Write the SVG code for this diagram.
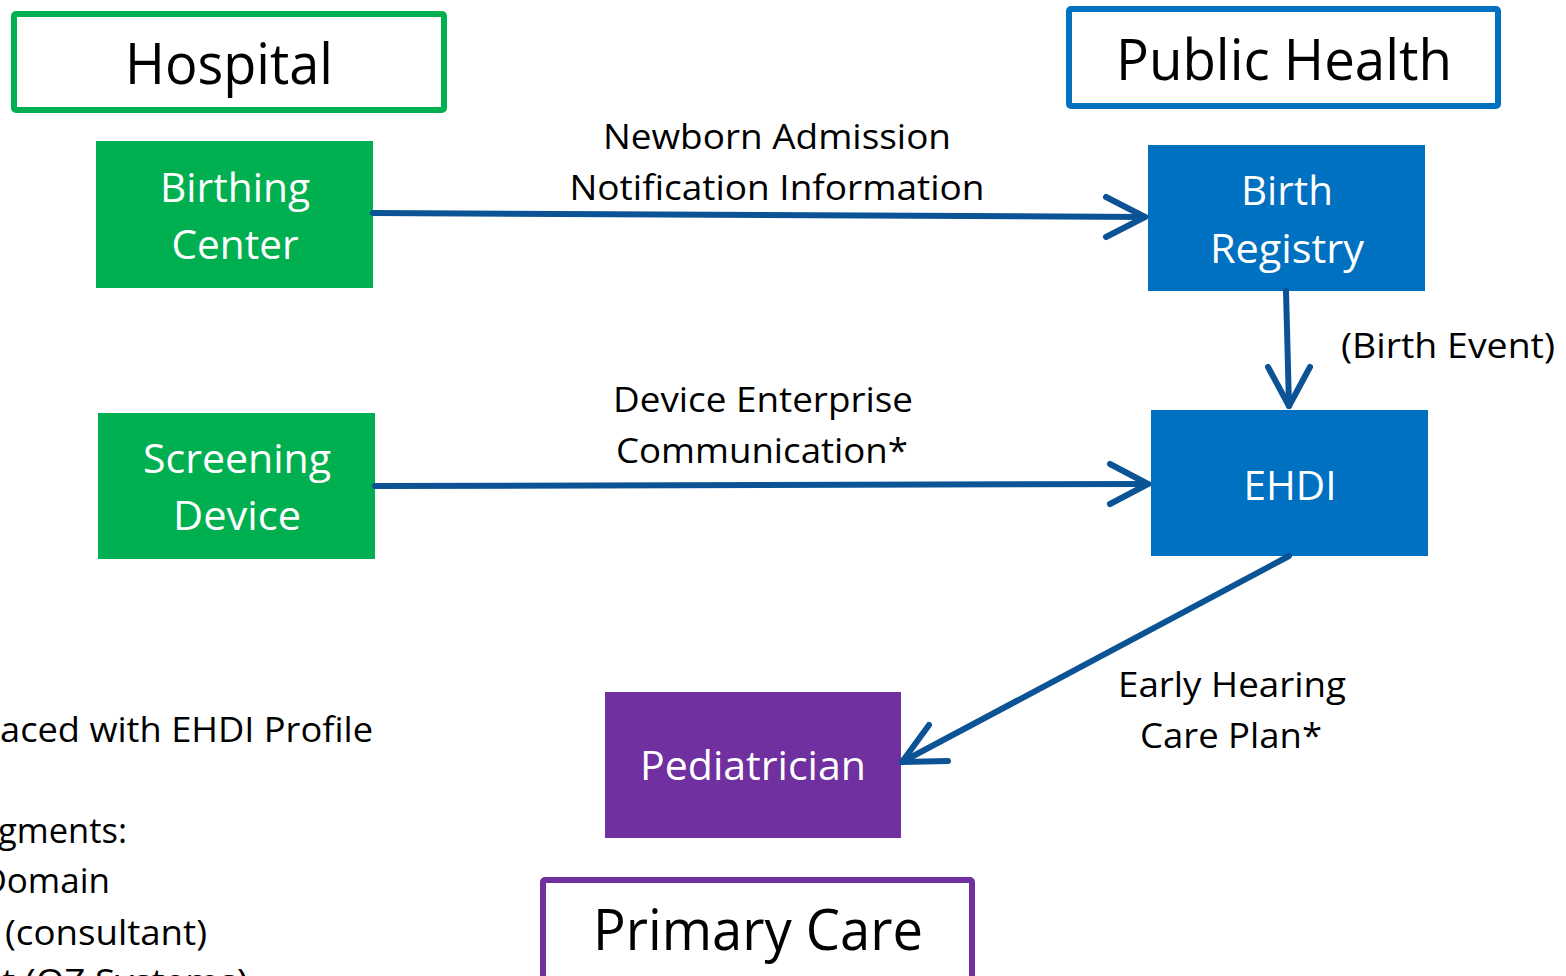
<svg xmlns="http://www.w3.org/2000/svg" width="1566" height="976" viewBox="0 0 1566 976">
<defs>
<style>
.t{font-family:"Open Sans","Noto Sans","Liberation Sans",sans-serif;fill:#000}
.w{font-family:"Open Sans","Noto Sans","Liberation Sans",sans-serif;fill:#fff;text-anchor:middle;font-size:40px}
.h{font-size:56px;text-anchor:middle}
.l{font-size:35px;text-anchor:middle}
.c{fill:none;stroke:#0B5394;stroke-width:6;stroke-linecap:round;stroke-linejoin:round}
</style>
</defs>
<rect width="1566" height="976" fill="#fff"/>
<g id="hospital-label">
<rect x="14" y="14" width="430" height="96" fill="#fff" stroke="#00B050" stroke-width="6" rx="2"/>
<text class="t h" x="229" y="84" textLength="208" lengthAdjust="spacingAndGlyphs">Hospital</text>
</g>
<g id="public-health-label">
<rect x="1069" y="9" width="429" height="97" fill="#fff" stroke="#0070C0" stroke-width="6" rx="2"/>
<text class="t h" x="1284" y="80" textLength="336" lengthAdjust="spacingAndGlyphs">Public Health</text>
</g>
<g id="primary-care-label">
<rect x="543" y="880" width="429" height="110" fill="#fff" stroke="#7030A0" stroke-width="6" rx="2"/>
<text class="t h" x="758" y="950" textLength="330" lengthAdjust="spacingAndGlyphs">Primary Care</text>
</g>
<g id="birthing-center">
<rect x="96" y="141" width="277" height="147" fill="#00B050"/>
<text class="w" x="235" y="202" textLength="150" lengthAdjust="spacingAndGlyphs">Birthing</text>
<text class="w" x="235" y="259" textLength="127" lengthAdjust="spacingAndGlyphs">Center</text>
</g>
<g id="screening-device">
<rect x="98" y="413" width="277" height="146" fill="#00B050"/>
<text class="w" x="237" y="473" textLength="188" lengthAdjust="spacingAndGlyphs">Screening</text>
<text class="w" x="237" y="530" textLength="128" lengthAdjust="spacingAndGlyphs">Device</text>
</g>
<g id="birth-registry">
<rect x="1148" y="145" width="277" height="146" fill="#0070C0"/>
<text class="w" x="1287" y="205" textLength="92" lengthAdjust="spacingAndGlyphs">Birth</text>
<text class="w" x="1287" y="263" textLength="154" lengthAdjust="spacingAndGlyphs">Registry</text>
</g>
<g id="ehdi">
<rect x="1151" y="410" width="277" height="146" fill="#0070C0"/>
<text class="w" x="1290" y="500" textLength="93" lengthAdjust="spacingAndGlyphs">EHDI</text>
</g>
<g id="pediatrician">
<rect x="605" y="692" width="296" height="146" fill="#7030A0"/>
<text class="w" x="753" y="780" textLength="226" lengthAdjust="spacingAndGlyphs">Pediatrician</text>
</g>
<g id="connectors">
<path class="c" d="M373 213 L1145 217"/>
<path class="c" d="M1106 197 L1145 217 L1106 237"/>
<path class="c" d="M375 486 L1148 484"/>
<path class="c" d="M1110 464 L1148 484 L1110 504"/>
<path class="c" d="M1286 291 L1289 406"/>
<path class="c" d="M1268 367 L1289 406 L1310 367"/>
<path class="c" d="M1289 556 L902 762"/>
<path class="c" d="M929 725 L902 762 L948 761"/>
</g>
<g id="labels">
<text class="t l" x="777" y="149" textLength="348" lengthAdjust="spacingAndGlyphs">Newborn Admission</text>
<text class="t l" x="777" y="200" textLength="415" lengthAdjust="spacingAndGlyphs">Notification Information</text>
<text class="t l" x="763" y="412" textLength="300" lengthAdjust="spacingAndGlyphs">Device Enterprise</text>
<text class="t l" x="762" y="463" textLength="292" lengthAdjust="spacingAndGlyphs">Communication*</text>
<text class="t" x="1341" y="358" font-size="35" textLength="214" lengthAdjust="spacingAndGlyphs">(Birth Event)</text>
<text class="t l" x="1232" y="697" textLength="228" lengthAdjust="spacingAndGlyphs">Early Hearing</text>
<text class="t l" x="1231" y="748" textLength="182" lengthAdjust="spacingAndGlyphs">Care Plan*</text>
</g>
<g id="note" class="t" font-size="35">
<text x="0" y="742" textLength="373" lengthAdjust="spacingAndGlyphs">aced with EHDI Profile</text>
<text x="-2" y="843" textLength="129" lengthAdjust="spacingAndGlyphs">gments:</text>
<text x="110" y="893" text-anchor="end">Domain</text>
<text x="5" y="945" textLength="202" lengthAdjust="spacingAndGlyphs">(consultant)</text>
<text x="2" y="994" textLength="246" lengthAdjust="spacingAndGlyphs">t (QZ Systems)</text>
</g>
</svg>
